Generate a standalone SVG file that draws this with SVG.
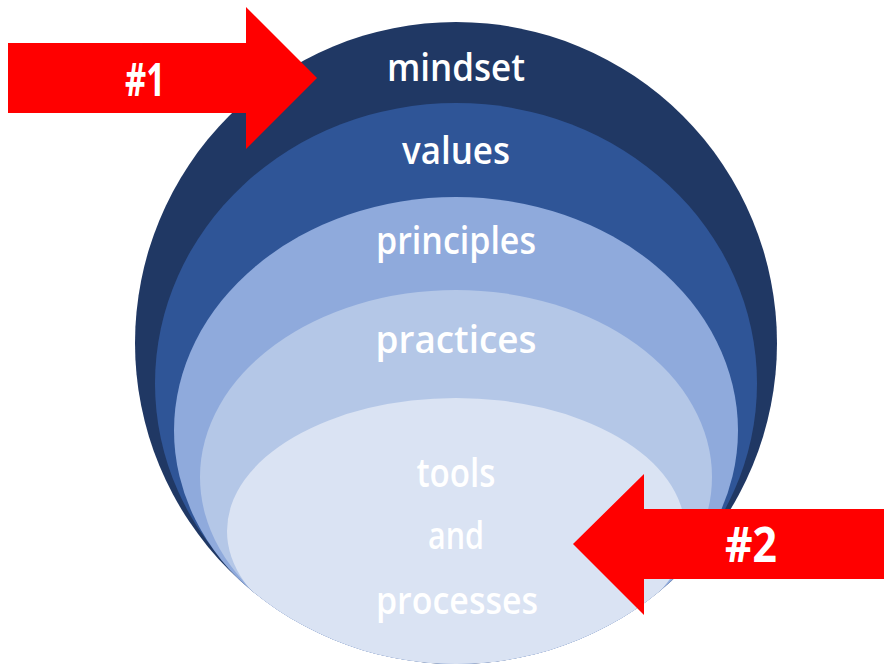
<svg xmlns="http://www.w3.org/2000/svg" width="884" height="664" viewBox="0 0 884 664">
<style>
.lbl{font-family:"Open Sans","Liberation Sans",sans-serif;font-weight:600;fill:#ffffff;text-anchor:middle;}
.num{font-family:"Open Sans","Liberation Sans",sans-serif;font-weight:700;fill:#ffffff;text-anchor:middle;}
.arrow{fill:#ff0000;}
</style>
<defs>
<clipPath id="outerClip"><circle cx="456" cy="343" r="321"/></clipPath>
</defs>
<rect width="884" height="664" fill="#ffffff"/>
<g id="mindset">
<circle cx="456" cy="343" r="321" fill="#203864"/>
<text class="lbl" x="456" y="81" font-size="38" textLength="138" lengthAdjust="spacingAndGlyphs">mindset</text>
</g>
<g clip-path="url(#outerClip)">
<g id="values">
<ellipse cx="456" cy="383.5" rx="301" ry="280.5" fill="#2F5597"/>
</g>
<g id="principles">
<ellipse cx="456" cy="430.5" rx="282" ry="233.5" fill="#8FAADC"/>
</g>
<g id="practices">
<ellipse cx="456" cy="477" rx="256" ry="187" fill="#B4C7E7"/>
</g>
<g id="tools">
<ellipse cx="456" cy="531" rx="229" ry="133" fill="#DAE3F3"/>
</g>
</g>
<g id="labels">
<text class="lbl" x="456" y="164" font-size="37" textLength="108" lengthAdjust="spacingAndGlyphs">values</text>
<text class="lbl" x="456" y="254" font-size="38" textLength="160" lengthAdjust="spacingAndGlyphs">principles</text>
<text class="lbl" x="456" y="353" font-size="38" textLength="161" lengthAdjust="spacingAndGlyphs">practices</text>
<text class="lbl" x="456" y="487" font-size="39" textLength="79" lengthAdjust="spacingAndGlyphs">tools</text>
<text class="lbl" x="456" y="549" font-size="38" textLength="56" lengthAdjust="spacingAndGlyphs">and</text>
<text class="lbl" x="457" y="614" font-size="38" textLength="162" lengthAdjust="spacingAndGlyphs">processes</text>
</g>
<g id="arrow1">
<polygon class="arrow" points="8,43 246,43 246,7 317,78 246,149 246,113 8,113"/>
<text class="num" x="145" y="96" font-size="46" textLength="40" lengthAdjust="spacingAndGlyphs">#1</text>
</g>
<g id="arrow2">
<polygon class="arrow" points="884,509 644,509 644,474 573,544 644,615 644,579 884,579"/>
<text class="num" x="751" y="562" font-size="48" textLength="52" lengthAdjust="spacingAndGlyphs">#2</text>
</g>
</svg>
